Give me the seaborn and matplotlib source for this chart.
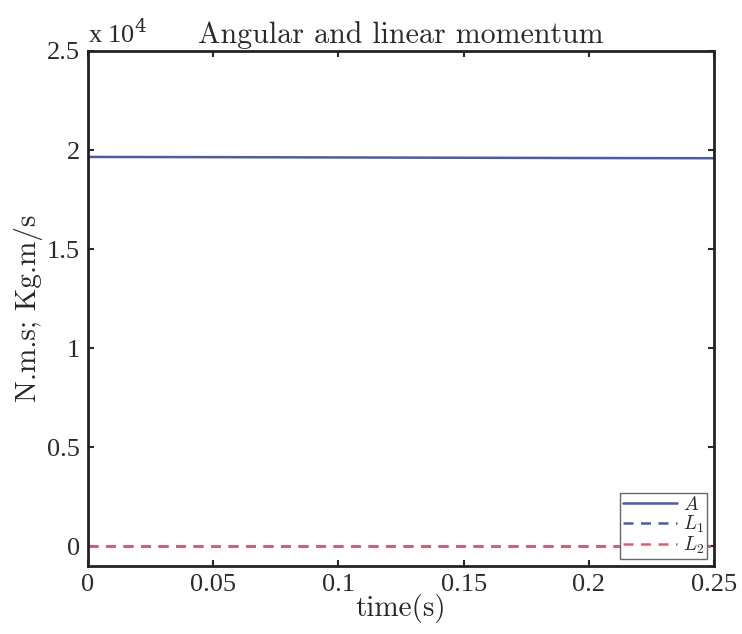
import numpy as np
import pandas as pd
import matplotlib
matplotlib.use("Agg")
import matplotlib.pyplot as plt
import seaborn as sns

# values
time = [0.0, 0.05, 0.10, 0.15, 0.20, 0.25]
A = [19650, 19640, 19625, 19610, 19595, 19585]
L1 = [0, 0, 0, 0, 0, 0]
L2 = [0, 0, 0, 0, 0, 0]

yticks = [0, 5000, 10000, 15000, 20000, 25000]
ytick_labels = ['0', '0.5', '1', '1.5', '2', '2.5']
xticks = [0, 0.05, 0.1, 0.15, 0.2, 0.25]
xtick_labels = ['0', '0.05', '0.1', '0.15', '0.2', '0.25']

df = pd.DataFrame({'time': time, 'A': A, 'L1': L1, 'L2': L2})

sns.set_style("ticks")
plt.rcParams['font.family'] = ['Liberation Serif', 'DejaVu Serif']
plt.rcParams['mathtext.fontset'] = 'cm'
plt.rcParams['text.color'] = '#2a2a2a'
plt.rcParams['xtick.color'] = '#2a2a2a'
plt.rcParams['ytick.color'] = '#2a2a2a'

fig = plt.figure(figsize=(7.42, 6.34), dpi=100)
ax = fig.add_axes([0.1186, 0.1073, 0.8437, 0.8123])

sns.lineplot(data=df, x='time', y='A', ax=ax, color='#4b5ca3', lw=1.8, label='$A$')
sns.lineplot(data=df, x='time', y='L1', ax=ax, color='#4b5ca3', lw=1.8, ls=(0, (4, 3)), label='$L_1$')
sns.lineplot(data=df, x='time', y='L2', ax=ax, color='#d8616c', lw=1.8, ls=(0, (4, 3)), label='$L_2$')

ax.set_xlim(0, 0.25)
ax.set_ylim(-1000, 25000)
ax.set_xticks(xticks)
ax.set_xticklabels(xtick_labels, fontfamily='Liberation Serif')
ax.set_yticks(yticks)
ax.set_yticklabels(ytick_labels, fontfamily='Liberation Serif')
ax.tick_params(direction='in', top=True, right=True, labelsize=19, length=4, width=1.5, pad=6)

for s in ax.spines.values():
    s.set_linewidth(2)
    s.set_color('#222222')

cm = ['cmr10', 'DejaVu Serif']
ax.set_title('Angular and linear momentum', fontsize=21.6, pad=6, fontfamily=cm)
ax.set_xlabel('time(s)', fontsize=21, labelpad=-2, fontfamily=cm)
ax.set_ylabel('N.m.s; Kg.m/s', fontsize=21, labelpad=3, fontfamily=cm)
ax.text(0.0, 1.005, 'x 10$^4$', transform=ax.transAxes, fontsize=19,
        ha='left', va='bottom', fontfamily='Liberation Serif', math_fontfamily='dejavuserif')

ax.legend(loc='lower right', fontsize=14, frameon=True, fancybox=False,
          edgecolor='#666666', framealpha=1, borderpad=0.15, labelspacing=0.0,
          handlelength=2.8, handletextpad=0.3, borderaxespad=0.35)

fig.savefig('out.png', dpi=100)
